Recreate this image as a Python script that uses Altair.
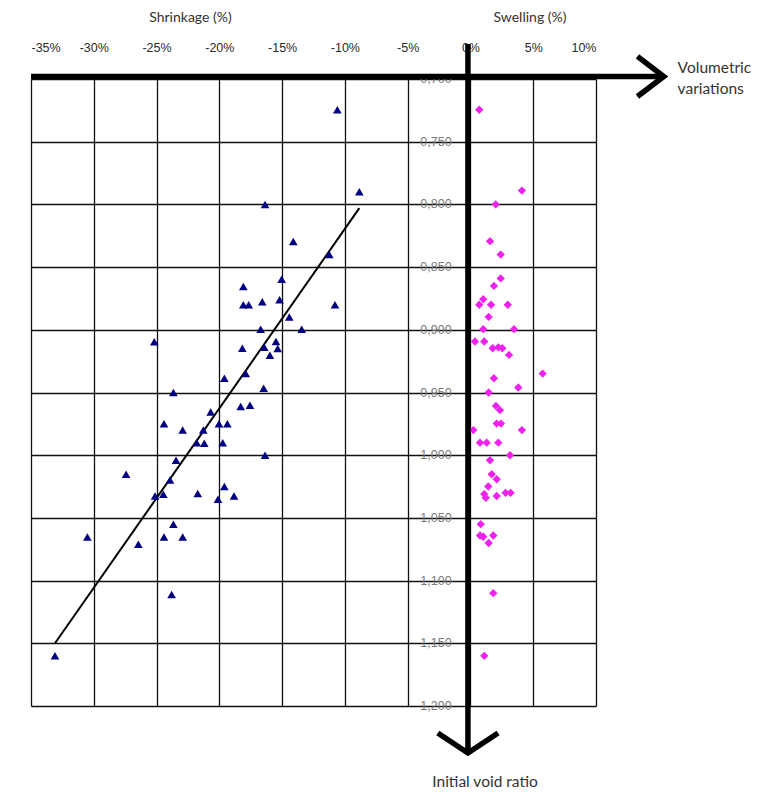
import altair as alt
import pandas as pd

# Shrinkage (blue triangles): volumetric variation (%) vs initial void ratio
tri_x = [-10.6, -8.85, -16.36, -14.11, -11.24, -18.09, -15.04, -18.09, -17.66, -16.58,
         -15.2, -10.79, -14.43, -13.44, -16.71, -25.18, -18.17, -16.42, -15.49, -15.35,
         -15.97, -17.9, -19.6, -23.66, -16.47, -20.69, -18.3, -17.56, -24.41, -22.92,
         -21.28, -20.03, -19.36, -21.8, -21.2, -19.73, -16.36, -23.45, -27.43, -23.93,
         -25.12, -24.46, -21.72, -19.6, -20.11, -18.83, -23.66, -24.41, -22.92, -30.51,
         -26.45, -23.8, -33.09]
tri_y = [0.7245, 0.790, 0.800, 0.8295, 0.840, 0.8654, 0.8596, 0.880, 0.880, 0.8777,
         0.876, 0.880, 0.8897, 0.8995, 0.8995, 0.9096, 0.9147, 0.914, 0.9093, 0.915,
         0.9203, 0.9349, 0.9386, 0.950, 0.9466, 0.9655, 0.9612, 0.9601, 0.975, 0.980,
         0.980, 0.975, 0.975, 0.990, 0.9905, 0.990, 1.000, 1.004, 1.0152, 1.0198,
         1.0325, 1.0312, 1.0306, 1.025, 1.0352, 1.0325, 1.055, 1.0652, 1.0652, 1.0652,
         1.071, 1.111, 1.160]

# Swelling (magenta diamonds)
dia_x = [0.70, 4.10, 2.01, 1.56, 2.41, 2.41, 1.87, 1.02, 0.70, 1.64,
         2.97, 1.45, 1.02, 3.47, 0.36, 1.10, 1.77, 2.22, 2.54, 3.07,
         5.75, 1.87, 3.81, 1.45, 2.03, 2.35, 2.09, 2.43, 0.23, 4.10,
         0.76, 1.29, 2.22, 3.15, 1.56, 1.69, 2.09, 1.42, 1.10, 1.22,
         2.09, 2.80, 3.20, 0.82, 0.76, 1.02, 1.82, 1.45, 1.82, 1.10]
dia_y = [0.7245, 0.789, 0.800, 0.8293, 0.840, 0.859, 0.865, 0.8756, 0.880, 0.880,
         0.880, 0.8897, 0.8995, 0.8995, 0.9093, 0.9093, 0.9147, 0.914, 0.9147, 0.920,
         0.9349, 0.9386, 0.946, 0.950, 0.9607, 0.9641, 0.9748, 0.9748, 0.980, 0.980,
         0.990, 0.990, 0.990, 1.000, 1.004, 1.0152, 1.0192, 1.025, 1.031, 1.034,
         1.0325, 1.030, 1.030, 1.055, 1.064, 1.065, 1.064, 1.070, 1.110, 1.160]

# Trend line end points
trend_x = [-33.09, -8.85]
trend_y = [1.150, 0.803]

# Axis ticks / labels
x_ticks = [-35, -30, -25, -20, -15, -10, -5, 0, 5, 10]
y_ticks = [0.70, 0.75, 0.80, 0.85, 0.90, 0.95, 1.00, 1.05, 1.10, 1.15, 1.20]
y_labels = ["0,700", "0,750", "0,800", "0,850", "0,900", "0,950",
            "1,000", "1,050", "1,100", "1,150", "1,200"]

# Arrow (axes) geometry in data units
arrow_seg = ["h", "h", "ha", "ha", "ha", "v", "v", "va", "va", "va"]
arrow_ord = [0, 1, 0, 1, 2, 0, 1, 0, 1, 2]
arrow_x = [-35, 15.4, 13.3, 15.4, 13.3, -0.2, -0.2, -2.6, -0.2, 2.2]
arrow_y = [0.698, 0.698, 0.682, 0.698, 0.714, 0.672, 1.2375, 1.2215, 1.2375, 1.2215]

# Annotation texts
ann_text = ["Shrinkage (%)", "Swelling (%)", "Volumetric", "variations", "Initial void ratio"]
ann_x = [-22.3, 4.74, 16.5, 16.5, 1.16]
ann_y = [0.6513, 0.6513, 0.6912, 0.7077, 1.2605]
ann_size = [14, 14, 15.5, 15.5, 15.5]
ann_align = ["center", "center", "left", "left", "center"]

tri_df = pd.DataFrame({"x": tri_x, "y": tri_y})
dia_df = pd.DataFrame({"x": dia_x, "y": dia_y})
trend_df = pd.DataFrame({"x": trend_x, "y": trend_y})
ylab_df = pd.DataFrame({"x": [-1.5] * len(y_ticks), "y": y_ticks, "t": y_labels})
arrow_df = pd.DataFrame({"x": arrow_x, "y": arrow_y, "seg": arrow_seg, "o": arrow_ord})
ann_df = pd.DataFrame({"x": ann_x, "y": ann_y, "t": ann_text, "a": ann_align, "s": ann_size})

X = alt.X("x:Q",
          scale=alt.Scale(domain=[-35, 10], nice=False, zero=False),
          axis=alt.Axis(orient="top", values=x_ticks, grid=True, domain=False,
                        ticks=False, labelExpr="datum.value + '%'",
                        labelPadding=25, labelFontSize=12.5, labelColor="#2a2a2a",
                        labelFont="Liberation Sans",
                        gridColor="#111111", gridWidth=1.3, title=None))
Y = alt.Y("y:Q",
          scale=alt.Scale(domain=[0.70, 1.20], reverse=True, nice=False, zero=False),
          axis=alt.Axis(values=y_ticks, grid=True, domain=False, ticks=False,
                        labels=False, gridColor="#111111", gridWidth=1.3, title=None))

tri = alt.Chart(tri_df).mark_point(shape="triangle-up", filled=True, size=75,
                                   color="#000080", opacity=1).encode(x=X, y=Y)
dia = alt.Chart(dia_df).mark_point(shape="diamond", filled=True, size=70,
                                   color="#EE22EE", opacity=1).encode(x=X, y=Y)
trend = alt.Chart(trend_df).mark_line(color="black", strokeWidth=2).encode(x=X, y=Y)
ylab = alt.Chart(ylab_df).mark_text(align="right", baseline="middle", fontSize=12.5,
                                    color="#7a7a7a", font="Liberation Sans").encode(
    x=X, y=Y, text="t:N")
arrows = alt.Chart(arrow_df).mark_line(color="black", strokeWidth=5.5, clip=False,
                                       strokeCap="butt").encode(
    x=X, y=Y, detail="seg:N", order="o:Q")
ann_c = alt.Chart(ann_df[ann_df["a"] == "center"]).mark_text(
    align="center", baseline="middle", color="#333333", font="Lato").encode(
    x=X, y=Y, text="t:N", size=alt.Size("s:Q", scale=None, legend=None))
ann_l = alt.Chart(ann_df[ann_df["a"] == "left"]).mark_text(
    align="left", baseline="middle", color="#333333", font="Lato").encode(
    x=X, y=Y, text="t:N", size=alt.Size("s:Q", scale=None, legend=None))

chart = alt.layer(trend, tri, dia, ylab, arrows, ann_c, ann_l).properties(
    width=565, height=627,
    autosize=alt.AutoSizeParams(type="none"),
    padding={"left": 23, "top": 71, "right": 162, "bottom": 84},
).configure_view(stroke="#111111", strokeWidth=1.3).configure(background="white")

chart.save("out.html", embed_options={"renderer": "svg", "actions": False})
